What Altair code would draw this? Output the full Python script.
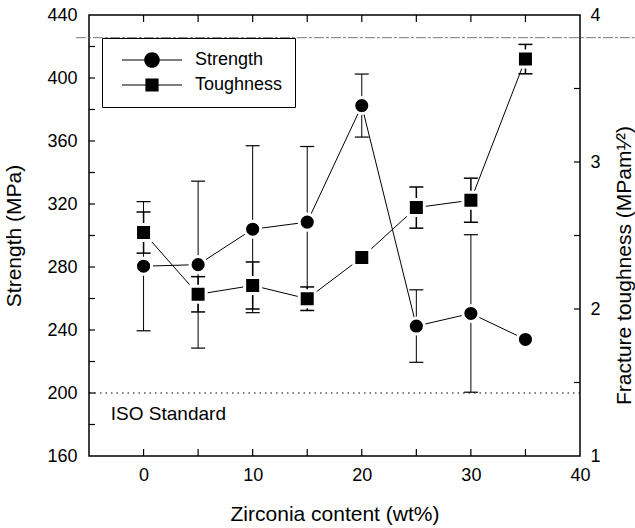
import altair as alt
import pandas as pd

# ---------------- data ----------------
zirconia = [0, 5, 10, 15, 20, 25, 30, 35]
strength = [280.5, 281.5, 304.0, 308.5, 382.5, 242.5, 250.5, 234.0]
strength_err = [41, 53, 53, 48, 20, 23, 50, 0]
toughness = [2.52, 2.10, 2.16, 2.07, 2.35, 2.69, 2.74, 3.70]
toughness_err = [0.14, 0.12, 0.16, 0.08, 0.0, 0.14, 0.15, 0.10]
series = ["Strength", "Toughness"]

iso_value = [200]
iso_label = ["ISO Standard"]
scan_line_y = [425.6]

x_label_values = [0, 10, 20, 30, 40]
x_tick_values = [0, 5, 10, 15, 20, 25, 30, 35]
y_left_labels = [160, 200, 240, 280, 320, 360, 400, 440]
y_left_ticks = [180, 200, 220, 240, 260, 280, 300, 320, 340, 360, 380, 400, 420]
y_right_labels = [1, 2, 3, 4]
y_right_ticks = [1.5, 2, 2.5, 3, 3.5]

# ---------------- layout / style ----------------
W, H = 491, 441
FONT = "Liberation Sans"
TICK = 7

df = pd.DataFrame({
    "x": zirconia, "s": strength, "se": strength_err,
    "t": toughness, "te": toughness_err,
})

xscale = alt.Scale(domain=[-5, 40], nice=False, zero=False)
sscale = alt.Scale(domain=[160, 440], nice=False, zero=False)
tscale = alt.Scale(domain=[1, 4], nice=False, zero=False)

xaxis = alt.Axis(values=x_label_values, title="Zirconia content (wt%)", tickSize=0,
                 domain=False, grid=False, labelPadding=10, titlePadding=19,
                 labelFontSize=18, titleFontSize=21, labelFont=FONT, titleFont=FONT,
                 titleFontWeight="normal", labelColor="black", titleColor="black",
                 labelFlush=False, labelOverlap=False)
saxis = alt.Axis(values=y_left_labels, title="Strength (MPa)", tickSize=0,
                 domain=False, grid=False, labelPadding=12, titlePadding=22,
                 labelFontSize=18, titleFontSize=21, labelFont=FONT, titleFont=FONT,
                 titleFontWeight="normal", labelColor="black", titleColor="black",
                 labelFlush=False, labelOverlap=False)
taxis = alt.Axis(orient="right", values=y_right_labels,
                 title="Fracture toughness (MPam\u00b9\u2044\u00b2)", tickSize=0,
                 domain=False, grid=False, labelPadding=10, titlePadding=13,
                 labelFontSize=18, titleFontSize=21, labelFont=FONT, titleFont=FONT,
                 titleFontWeight="normal", labelColor="black", titleColor="black",
                 titleAngle=270, titleBaseline="top", titleY=250,
                 labelFlush=False, labelOverlap=False)


def X(f):
    return alt.X(f, type="quantitative", scale=xscale, axis=xaxis)


def YS(f):
    return alt.Y(f, type="quantitative", scale=sscale, axis=saxis)


def YT(f):
    return alt.Y(f, type="quantitative", scale=tscale, axis=taxis)


base = alt.Chart(df)

# ---- strength side ----
scan = alt.Chart(pd.DataFrame({"y": scan_line_y, "x1": [-6.2], "x2": [45]})).mark_rule(
    color="#555", strokeWidth=1, strokeDash=[10, 2, 3, 2], clip=False, opacity=0.8
).encode(x=X("x1"), x2="x2", y=YS("y"))

iso_rule = alt.Chart(pd.DataFrame({"y": iso_value})).mark_rule(
    color="black", strokeWidth=1.2, strokeDash=[1.5, 4]
).encode(y=YS("y"))

iso_text = alt.Chart(pd.DataFrame({"label": iso_label, "x": [-3.0], "y": [183]})).mark_text(
    align="left", baseline="alphabetic", fontSize=19, font=FONT, color="black"
).encode(x=X("x"), y=YS("y"), text="label:N")

tick_x_df = pd.DataFrame({"v": x_tick_values})
bottom_ticks = alt.Chart(tick_x_df).mark_rule(color="black", strokeWidth=1.2).encode(
    x=X("v"), y=alt.value(H), y2=alt.value(H - TICK))
top_ticks = alt.Chart(tick_x_df).mark_rule(color="black", strokeWidth=1.2).encode(
    x=X("v"), y=alt.value(0), y2=alt.value(TICK))
left_ticks = alt.Chart(pd.DataFrame({"v": y_left_ticks})).mark_rule(
    color="black", strokeWidth=1.2).encode(y=YS("v"), x=alt.value(0), x2=alt.value(TICK - 1))

s_err = base.transform_filter("datum.se > 0").transform_calculate(
    lo="datum.s - datum.se", hi="datum.s + datum.se")
err_s = s_err.mark_rule(color="black", strokeWidth=1).encode(x=X("x"), y=YS("lo"), y2="hi:Q")
caps_s = s_err.transform_fold(["lo", "hi"], as_=["k", "v"]).mark_tick(
    orient="horizontal", size=14, thickness=1.2, color="black", opacity=1
).encode(x=X("x"), y=YS("v"))
line_s = base.mark_line(color="black", strokeWidth=1).encode(x=X("x"), y=YS("s"))
pts_s = base.mark_point(shape="circle", filled=True, fill="black", stroke="white",
                        strokeWidth=3, size=260, opacity=1, fillOpacity=1,
                        strokeOpacity=1).encode(x=X("x"), y=YS("s"))

# legend symbols: a thin horizontal bar through a marker (filled shapes only)
bar = "M-1,-0.02L1,-0.02L1,0.02L-1,0.02Z"
circ_path = bar + "M0.26,0A0.26,0.26,0,1,1,-0.26,0A0.26,0.26,0,1,1,0.26,0Z"
sq_path = bar + "M-0.22,-0.22L0.22,-0.22L0.22,0.22L-0.22,0.22Z"
legend_layer = alt.Chart(pd.DataFrame({"series": series})).mark_point(
    filled=True, color="black", opacity=0
).encode(
    shape=alt.Shape("series:N", scale=alt.Scale(domain=series, range=[circ_path, sq_path]),
                    legend=alt.Legend(
                        title=None, orient="none", legendX=13, legendY=23,
                        padding=12, strokeColor="black", fillColor="white",
                        labelFontSize=18, labelFont=FONT, labelColor="black",
                        symbolSize=3600, symbolFillColor="black",
                        symbolStrokeColor="black", symbolStrokeWidth=0,
                        symbolOpacity=1, clipHeight=20, rowPadding=5,
                        labelOffset=13, symbolOffset=8))
)

strength_layer = alt.layer(scan, iso_rule, iso_text, bottom_ticks, top_ticks, left_ticks,
                           err_s, caps_s, line_s, pts_s, legend_layer)

# ---- toughness side ----
right_ticks = alt.Chart(pd.DataFrame({"v": y_right_ticks})).mark_rule(
    color="black", strokeWidth=1.2).encode(y=YT("v"), x=alt.value(W), x2=alt.value(W - TICK + 1))
t_err = base.transform_filter("datum.te > 0").transform_calculate(
    lo="datum.t - datum.te", hi="datum.t + datum.te")
err_t = t_err.mark_rule(color="black", strokeWidth=1.5).encode(x=X("x"), y=YT("lo"), y2="hi:Q")
caps_t = t_err.transform_fold(["lo", "hi"], as_=["k", "v"]).mark_tick(
    orient="horizontal", size=14, thickness=1.5, color="black", opacity=1
).encode(x=X("x"), y=YT("v"))
line_t = base.mark_line(color="black", strokeWidth=1).encode(x=X("x"), y=YT("t"))
pts_t = base.mark_point(shape="square", filled=True, fill="black", stroke="white",
                        strokeWidth=3, size=256, opacity=1, fillOpacity=1,
                        strokeOpacity=1).encode(x=X("x"), y=YT("t"))

tough_layer = alt.layer(right_ticks, err_t, caps_t, line_t, pts_t)

chart = alt.layer(strength_layer, tough_layer).resolve_scale(y="independent").properties(
    width=W, height=H,
    autosize=alt.AutoSizeParams(type="none"),
    padding={"left": 89, "top": 15, "right": 55, "bottom": 72},
    background="white",
).configure_view(stroke="black", strokeWidth=1.5)

chart.save("out.html", embed_options={"renderer": "svg", "actions": False})
